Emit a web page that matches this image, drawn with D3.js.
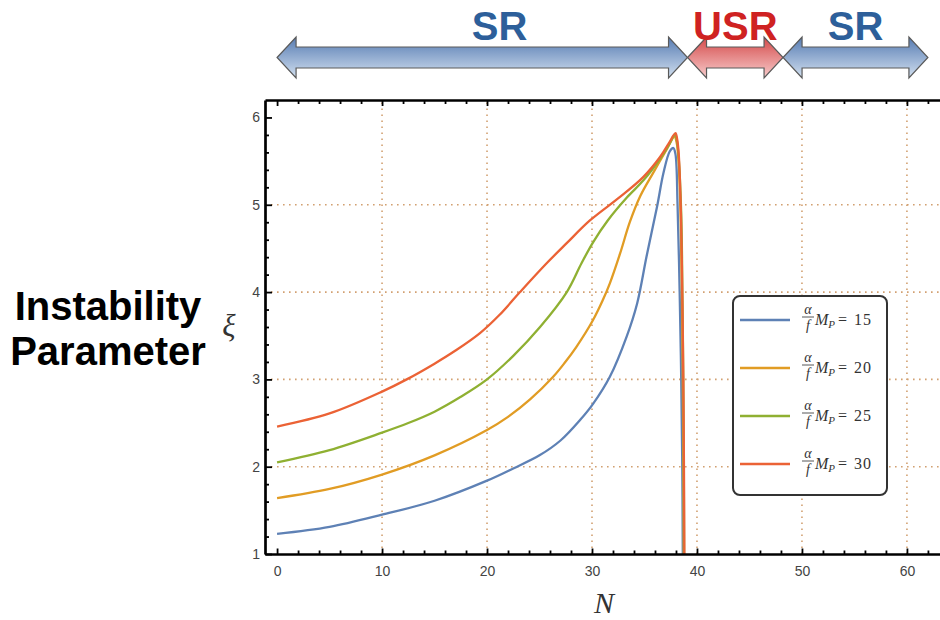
<!DOCTYPE html>
<html>
<head>
<meta charset="utf-8">
<script src="https://cdn.jsdelivr.net/npm/d3@7"></script>
<style>
  body { margin: 0; background: #fff; }
  svg { display: block; }
</style>
</head>
<body>
<svg id="chart" width="940" height="620"></svg>
<script>
// ---------------- data ----------------
// legend values of (alpha/f) M_P for each curve
const seriesNames = ["15", "20", "25", "30"];
const seriesColors = ["#5e81b5", "#e19c24", "#8fb032", "#eb6235"];

// xi(N) for (alpha/f) M_P = 15
const nS15  = [0, 5, 10, 15, 20, 22.5, 25, 27, 28.9, 30.1, 31.7, 33.3, 34.3, 35.2, 36.2, 36.8, 37.4, 37.75, 37.95, 38.15, 38.35, 38.5, 38.6, 38.65, 38.67];
const xiS15 = [1.23, 1.31, 1.45, 1.61, 1.84, 1.98, 2.13, 2.30, 2.54, 2.72, 3.03, 3.49, 3.87, 4.41, 4.98, 5.36, 5.61, 5.65, 5.58, 5.0, 4.0, 3.0, 2.0, 1.0, 0.5];

// xi(N) for (alpha/f) M_P = 20
const nS20  = [0, 5, 10, 15, 20, 22, 24.1, 26.3, 27.4, 28.5, 30.1, 31.0, 31.7, 32.67, 33.6, 34.6, 35.8, 37.1, 37.85, 38.05, 38.25, 38.45, 38.58, 38.66, 38.72, 38.75];
const xiS20 = [1.64, 1.745, 1.91, 2.13, 2.42, 2.57, 2.77, 3.03, 3.19, 3.37, 3.68, 3.90, 4.10, 4.44, 4.80, 5.10, 5.36, 5.63, 5.78, 5.72, 5.5, 4.8, 3.8, 2.8, 1.8, 0.5];

// xi(N) for (alpha/f) M_P = 25
const nS25  = [0, 5, 10, 12.5, 15, 17.5, 20, 22.5, 25.05, 27.6, 29.0, 30.1, 31.5, 33.3, 34.9, 36.5, 37.3, 37.9, 38.08, 38.25, 38.5, 38.62, 38.7, 38.75, 38.78];
const xiS25 = [2.05, 2.19, 2.39, 2.50, 2.63, 2.80, 3.0, 3.27, 3.60, 4.0, 4.33, 4.57, 4.82, 5.08, 5.28, 5.53, 5.68, 5.80, 5.74, 5.55, 4.9, 3.9, 2.9, 1.8, 0.5];

// xi(N) for (alpha/f) M_P = 30
const nS30  = [0, 5, 10, 12.35, 15, 17, 19.33, 21.2, 23.14, 25.68, 27.59, 29.8, 32.67, 34.9, 36.5, 37.3, 37.95, 38.1, 38.25, 38.45, 38.6, 38.7, 38.76, 38.8, 38.82];
const xiS30 = [2.46, 2.61, 2.86, 3.0, 3.18, 3.33, 3.53, 3.74, 4.0, 4.33, 4.56, 4.82, 5.09, 5.32, 5.55, 5.70, 5.82, 5.76, 5.6, 5.0, 4.0, 3.0, 2.0, 1.0, 0.5];

// axis ticks
const xTicks = [0, 10, 20, 30, 40, 50, 60];
const yTicks = [1, 2, 3, 4, 5, 6];
const xGrid = [10, 20, 30, 40, 50, 60];
const yGrid = [2, 3, 4, 5];

// stability regions along N
const regionLabels = ["SR", "USR", "SR"];
const regionStart  = [0, 39.1, 48.2];
const regionEnd    = [39.1, 48.2, 62];
const regionLabelN = [21.2, 43.65, 55.1];
const regionStable = [true, false, true];

// ---------------- layout ----------------
const svg = d3.select("#chart");
const plotLeft = 265, plotRight = 940, plotTop = 100, plotBottom = 554;

const x = d3.scaleLinear().domain([-1.15, 63.15]).range([plotLeft, plotRight]);
const y = d3.scaleLinear().domain([1, 6.2]).range([plotBottom, plotTop]);

const xiBySeries = [xiS15, xiS20, xiS25, xiS30];
const series = [nS15, nS20, nS25, nS30].map((ns, i) => ({
  name: seriesNames[i],
  color: seriesColors[i],
  points: ns.map((n, j) => [n, xiBySeries[i][j]])
}));

const defs = svg.append("defs");
defs.append("clipPath").attr("id", "plot-clip")
  .append("rect").attr("x", plotLeft).attr("y", plotTop)
  .attr("width", plotRight - plotLeft).attr("height", plotBottom - plotTop);

// arrow fills
const gBlue = defs.append("linearGradient").attr("id", "grad-stable")
  .attr("gradientUnits", "userSpaceOnUse").attr("x1", 0).attr("x2", 0).attr("y1", 37).attr("y2", 78);
gBlue.append("stop").attr("offset", "0%").attr("stop-color", "#567bb2");
gBlue.append("stop").attr("offset", "100%").attr("stop-color", "#d2e0f0");
const gRed = defs.append("linearGradient").attr("id", "grad-unstable")
  .attr("gradientUnits", "userSpaceOnUse").attr("x1", 0).attr("x2", 0).attr("y1", 37).attr("y2", 78);
gRed.append("stop").attr("offset", "0%").attr("stop-color", "#d44a4a");
gRed.append("stop").attr("offset", "100%").attr("stop-color", "#f8cccc");

// ---------------- grid ----------------
const grid = svg.append("g").attr("stroke", "#d2a071").attr("stroke-width", 1.6)
  .attr("stroke-dasharray", "1.6,4.4").attr("fill", "none");
grid.selectAll("line.gx").data(xGrid).join("line").attr("class", "gx")
  .attr("x1", d => x(d)).attr("x2", d => x(d)).attr("y1", plotBottom).attr("y2", plotTop);
grid.selectAll("line.gy").data(yGrid).join("line").attr("class", "gy")
  .attr("x1", plotLeft).attr("x2", plotRight).attr("y1", d => y(d)).attr("y2", d => y(d));

// ---------------- curves ----------------
const line = d3.line().x(d => x(d[0])).y(d => y(d[1])).curve(d3.curveCatmullRom.alpha(0.5));
svg.append("g").attr("clip-path", "url(#plot-clip)")
  .selectAll("path").data(series).join("path")
  .attr("d", d => line(d.points))
  .attr("fill", "none").attr("stroke", d => d.color)
  .attr("stroke-width", 2.3).attr("stroke-linejoin", "round");

// ---------------- axes ----------------
const xMinor = d3.range(0, 63, 2).filter(v => v % 10 !== 0);
const yMinor = d3.range(1.2, 6.1, 0.2).filter(v => Math.abs(v - Math.round(v)) > 1e-6);

function styleAxis(g, width) {
  g.select(".domain").attr("stroke", "#000").attr("stroke-width", width);
  g.selectAll(".tick line").attr("stroke", "#000").attr("stroke-width", 1.8);
  g.selectAll(".tick text").attr("fill", "#444")
    .attr("font-family", "Liberation Sans, Arial, sans-serif").attr("font-size", 14);
}

// bottom
svg.append("g").attr("transform", `translate(0,${plotBottom})`)
  .call(d3.axisBottom(x).tickValues(xMinor).tickSizeInner(-3.5).tickSizeOuter(0).tickFormat(""))
  .call(g => styleAxis(g, 2.5));
svg.append("g").attr("transform", `translate(0,${plotBottom})`)
  .call(d3.axisBottom(x).tickValues(xTicks).tickSizeInner(-5.5).tickSizeOuter(0).tickPadding(12).tickFormat(d3.format("d")))
  .call(g => { styleAxis(g, 2.5); g.select(".domain").remove(); });

// top frame
svg.append("g").attr("transform", `translate(0,${plotTop})`)
  .call(d3.axisTop(x).tickValues(xMinor).tickSizeInner(-4).tickSizeOuter(0).tickFormat(""))
  .call(g => styleAxis(g, 2.7));
svg.append("g").attr("transform", `translate(0,${plotTop})`)
  .call(d3.axisTop(x).tickValues(xTicks).tickSizeInner(-6).tickSizeOuter(0).tickFormat(""))
  .call(g => { styleAxis(g, 2.7); g.select(".domain").remove(); });

// left
svg.append("g").attr("transform", `translate(${plotLeft},0)`)
  .call(d3.axisLeft(y).tickValues(yMinor).tickSizeInner(-4).tickSizeOuter(0).tickFormat(""))
  .call(g => styleAxis(g, 2.7));
svg.append("g").attr("transform", `translate(${plotLeft},0)`)
  .call(d3.axisLeft(y).tickValues(yTicks).tickSizeInner(-7).tickSizeOuter(0).tickPadding(5).tickFormat(d3.format("d")))
  .call(g => { styleAxis(g, 2.7); g.select(".domain").remove(); });

// axis titles
svg.append("text").attr("x", 604).attr("y", 613).attr("text-anchor", "middle")
  .attr("font-family", "Liberation Serif, serif").attr("font-style", "italic")
  .attr("font-size", 30).attr("fill", "#333").text("N");
svg.append("text").attr("x", 229).attr("y", 336).attr("text-anchor", "middle")
  .attr("font-family", "Liberation Serif, serif").attr("font-style", "italic")
  .attr("font-size", 31).attr("fill", "#333").text("ξ");

svg.append("g").attr("font-family", "Liberation Sans, Arial, sans-serif")
  .attr("font-weight", "bold").attr("font-size", 40).attr("fill", "#000")
  .attr("text-anchor", "middle")
  .selectAll("text").data(["Instability", "Parameter"]).join("text")
  .attr("x", 108).attr("y", (d, i) => 320 + i * 45).text(d => d);

// ---------------- legend ----------------
const serif = "Liberation Serif, DejaVu Serif, serif";
const legend = svg.append("g");
legend.append("rect").attr("x", 733).attr("y", 296).attr("width", 154).attr("height", 199)
  .attr("rx", 7).attr("fill", "#fff").attr("stroke", "#333").attr("stroke-width", 2);
const entry = legend.selectAll("g.entry").data(series).join("g").attr("class", "entry")
  .attr("transform", (d, i) => `translate(0,${320 + i * 48})`)
  .attr("font-family", serif).attr("fill", "#333");
entry.append("line").attr("x1", 740).attr("x2", 790).attr("y1", 0).attr("y2", 0)
  .attr("stroke", d => d.color).attr("stroke-width", 2.3);
// fraction alpha / f
entry.append("text").attr("x", 808).attr("y", -6.5).attr("text-anchor", "middle")
  .attr("font-style", "italic").attr("font-size", 14).text("α");
entry.append("line").attr("x1", 802).attr("x2", 814).attr("y1", -3).attr("y2", -3)
  .attr("stroke", "#444").attr("stroke-width", 0.9);
entry.append("text").attr("x", 808).attr("y", 10).attr("text-anchor", "middle")
  .attr("font-style", "italic").attr("font-size", 14).text("f");
// M_P = value
const label = entry.append("text").attr("x", 815).attr("y", 5).attr("font-size", 16);
label.append("tspan").attr("font-style", "italic").text("M");
label.append("tspan").attr("font-style", "italic").attr("font-size", 11).attr("dy", 3).text("P");
label.append("tspan").attr("x", 838).attr("y", 5).text("=");
label.append("tspan").attr("x", 854).attr("letter-spacing", 1).text(d => d.name);

// ---------------- stability arrows ----------------
const cy = 57.5, headHalf = 20.5, shaftHalf = 10.5, headLen = 19;
function arrowPath(x0, x1) {
  return d3.line()([
    [x0, cy], [x0 + headLen, cy - headHalf], [x0 + headLen, cy - shaftHalf],
    [x1 - headLen, cy - shaftHalf], [x1 - headLen, cy - headHalf], [x1, cy],
    [x1 - headLen, cy + headHalf], [x1 - headLen, cy + shaftHalf],
    [x0 + headLen, cy + shaftHalf], [x0 + headLen, cy + headHalf]
  ]) + "Z";
}
const regions = regionLabels.map((label, i) => ({
  label, start: regionStart[i], end: regionEnd[i], at: regionLabelN[i], stable: regionStable[i]
}));
const arrows = svg.append("g");
arrows.selectAll("path").data(regions).join("path")
  .attr("d", d => arrowPath(x(d.start), x(d.end)))
  .attr("fill", d => d.stable ? "url(#grad-stable)" : "url(#grad-unstable)")
  .attr("stroke", "#5a5a5a").attr("stroke-width", 1.2).attr("stroke-linejoin", "miter");
arrows.selectAll("text").data(regions).join("text")
  .attr("x", d => x(d.at)).attr("y", 40).attr("text-anchor", "middle")
  .attr("font-family", "Liberation Sans, Arial, sans-serif").attr("font-weight", "bold")
  .attr("font-size", 40).attr("fill", d => d.stable ? "#2d5f9a" : "#cf2222")
  .text(d => d.label);
</script>
</body>
</html>
